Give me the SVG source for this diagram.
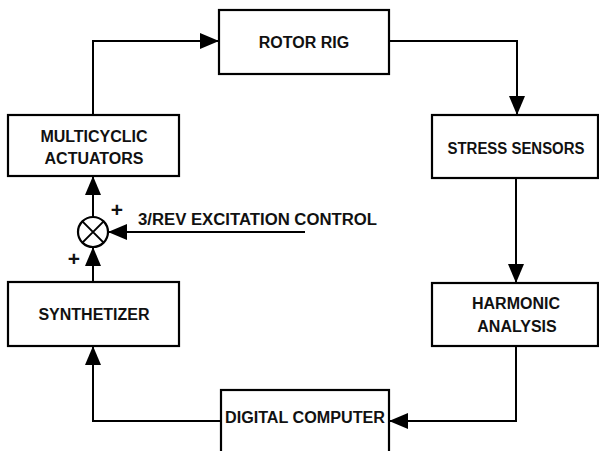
<svg xmlns="http://www.w3.org/2000/svg" width="599" height="451" viewBox="0 0 599 451">
<defs>
<marker id="ah" markerUnits="userSpaceOnUse" markerWidth="19" markerHeight="16" refX="19" refY="8" orient="auto">
<path d="M0,0 L19,8 L0,16 Z" fill="#000"/>
</marker>
<style>
.box{fill:#fff;stroke:#000;stroke-width:2.2}
.t{font-family:"Liberation Sans",Arial,sans-serif;font-weight:bold;font-size:16px;fill:#111;text-anchor:middle}
.p{font-family:"Liberation Sans",Arial,sans-serif;font-weight:bold;font-size:21px;fill:#111;text-anchor:middle}
.c{fill:none;stroke:#000;stroke-width:2}
</style>
</defs>
<rect width="599" height="451" fill="#fff"/>
<g id="connectors">
<path class="c" d="M93,115 V41 H219" marker-end="url(#ah)"/>
<path class="c" d="M389,41 H517 V115" marker-end="url(#ah)"/>
<path class="c" d="M516,178 V283" marker-end="url(#ah)"/>
<path class="c" d="M516,346 V421 H389" marker-end="url(#ah)"/>
<path class="c" d="M221,421 H93 V346" marker-end="url(#ah)"/>
<path class="c" d="M93,282 V247" marker-end="url(#ah)"/>
<path class="c" d="M93,217 V176" marker-end="url(#ah)"/>
<path class="c" d="M305,232 H108" marker-end="url(#ah)"/>
</g>
<g id="rotor-rig">
<rect class="box" x="219" y="10" width="170" height="64"/>
<text class="t" x="304" y="48">ROTOR RIG</text>
</g>
<g id="stress-sensors">
<rect class="box" x="432" y="115" width="166" height="63"/>
<text class="t" x="516" y="154" textLength="137" lengthAdjust="spacingAndGlyphs">STRESS SENSORS</text>
</g>
<g id="harmonic-analysis">
<rect class="box" x="432" y="283" width="166" height="63"/>
<text class="t" x="516" y="309">HARMONIC</text>
<text class="t" x="517" y="332">ANALYSIS</text>
</g>
<g id="digital-computer">
<rect class="box" x="221" y="390" width="168" height="63"/>
<text class="t" x="305" y="423" textLength="160" lengthAdjust="spacingAndGlyphs">DIGITAL COMPUTER</text>
</g>
<g id="synthetizer">
<rect class="box" x="8" y="282" width="171" height="64"/>
<text class="t" x="94" y="320">SYNTHETIZER</text>
</g>
<g id="multicyclic-actuators">
<rect class="box" x="8" y="115" width="171" height="61"/>
<text class="t" x="94" y="142">MULTICYCLIC</text>
<text class="t" x="94" y="164">ACTUATORS</text>
</g>
<g id="summing-junction">
<circle cx="93" cy="232" r="15" fill="#fff" stroke="#000" stroke-width="2.2"/>
<path d="M82.4,221.4 L103.6,242.6 M103.6,221.4 L82.4,242.6" stroke="#000" stroke-width="2"/>
<text class="p" x="117" y="217">+</text>
<text class="p" x="74" y="266">+</text>
</g>
<g id="excitation-label">
<text class="t" x="138" y="225" style="text-anchor:start" textLength="239" lengthAdjust="spacingAndGlyphs">3/REV EXCITATION CONTROL</text>
</g>
</svg>
